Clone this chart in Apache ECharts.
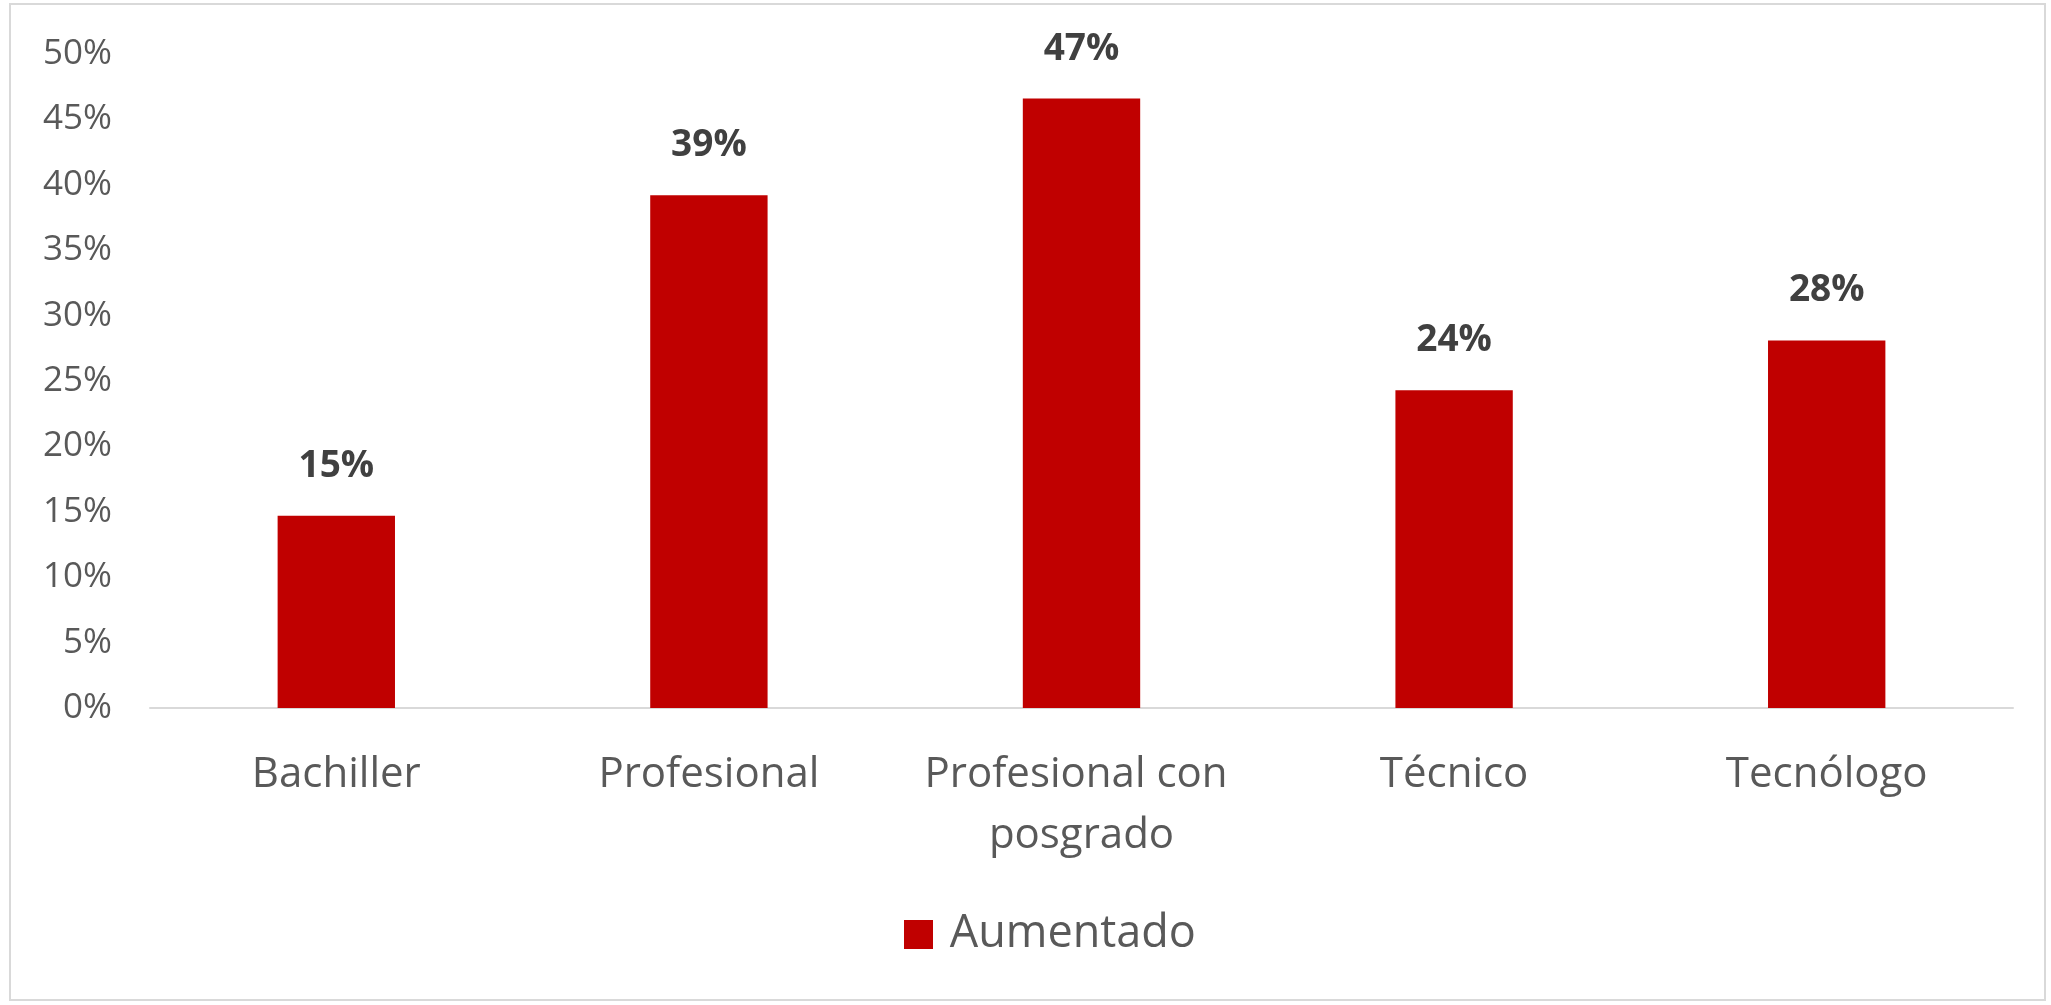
<!DOCTYPE html>
<html>
<head>
<meta charset="utf-8">
<style>
  html, body { margin: 0; padding: 0; background: #fff; }
  #chart { width: 2051px; height: 1005px; }
</style>
<script src="https://cdn.jsdelivr.net/npm/echarts@6/dist/echarts.min.js"></script>
</head>
<body>
<div id="chart"></div>
<script>
// niveles educativos y porcentaje "Aumentado"
const categories = ['Bachiller', 'Profesional', 'Profesional con posgrado', 'Técnico', 'Tecnólogo'];
const aumentado = [0.147, 0.392, 0.466, 0.243, 0.281];
const seriesName = 'Aumentado';

let chart = echarts.init(document.getElementById('chart'));

const textFont = '"Open Sans", Lato, sans-serif';

let option = {
    animation: false,
    textStyle: { fontFamily: textFont },
    graphic: [{
        type: 'rect',
        shape: { x: 10, y: 4, width: 2035, height: 996 },
        style: { fill: 'none', stroke: '#d9d9d9', lineWidth: 2 },
        silent: true
    }],
    grid: {
        left: 150,
        right: 38,
        top: 54,
        bottom: 297
    },
    legend: {
        bottom: 43,
        left: 899,
        data: [seriesName],
        icon: 'rect',
        itemWidth: 29,
        itemHeight: 29,
        itemGap: 10,
        formatter: function (name) { return ' ' + name; },
        textStyle: {
            fontFamily: textFont,
            fontSize: 45,
            color: '#595959'
        }
    },
    xAxis: {
        type: 'category',
        data: categories,
        axisLine: { lineStyle: { color: '#d9d9d9', width: 2 } },
        axisTick: { show: false },
        axisLabel: {
            fontFamily: textFont,
            fontSize: 42,
            color: '#595959',
            margin: 37,
            lineHeight: 61,
            width: 340,
            overflow: 'break',
            interval: 0
        }
    },
    yAxis: {
        type: 'value',
        min: 0,
        max: 0.5,
        interval: 0.05,
        axisLine: { show: false },
        axisTick: { show: false },
        splitLine: { show: false },
        axisLabel: {
            fontFamily: textFont,
            fontSize: 35,
            color: '#595959',
            margin: 38,
            formatter: function (v) { return Math.round(v * 100) + '%'; }
        }
    },
    series: [{
        name: seriesName,
        type: 'bar',
        data: aumentado,
        barWidth: '31.5%',
        itemStyle: { color: '#c00000' },
        label: {
            show: true,
            position: 'top',
            distance: 31,
            fontFamily: textFont,
            fontSize: 37,
            fontWeight: 'bold',
            color: '#404040',
            formatter: function (p) { return Math.round(p.value * 100) + '%'; }
        }
    }]
};

chart.setOption(option);
</script>
</body>
</html>
